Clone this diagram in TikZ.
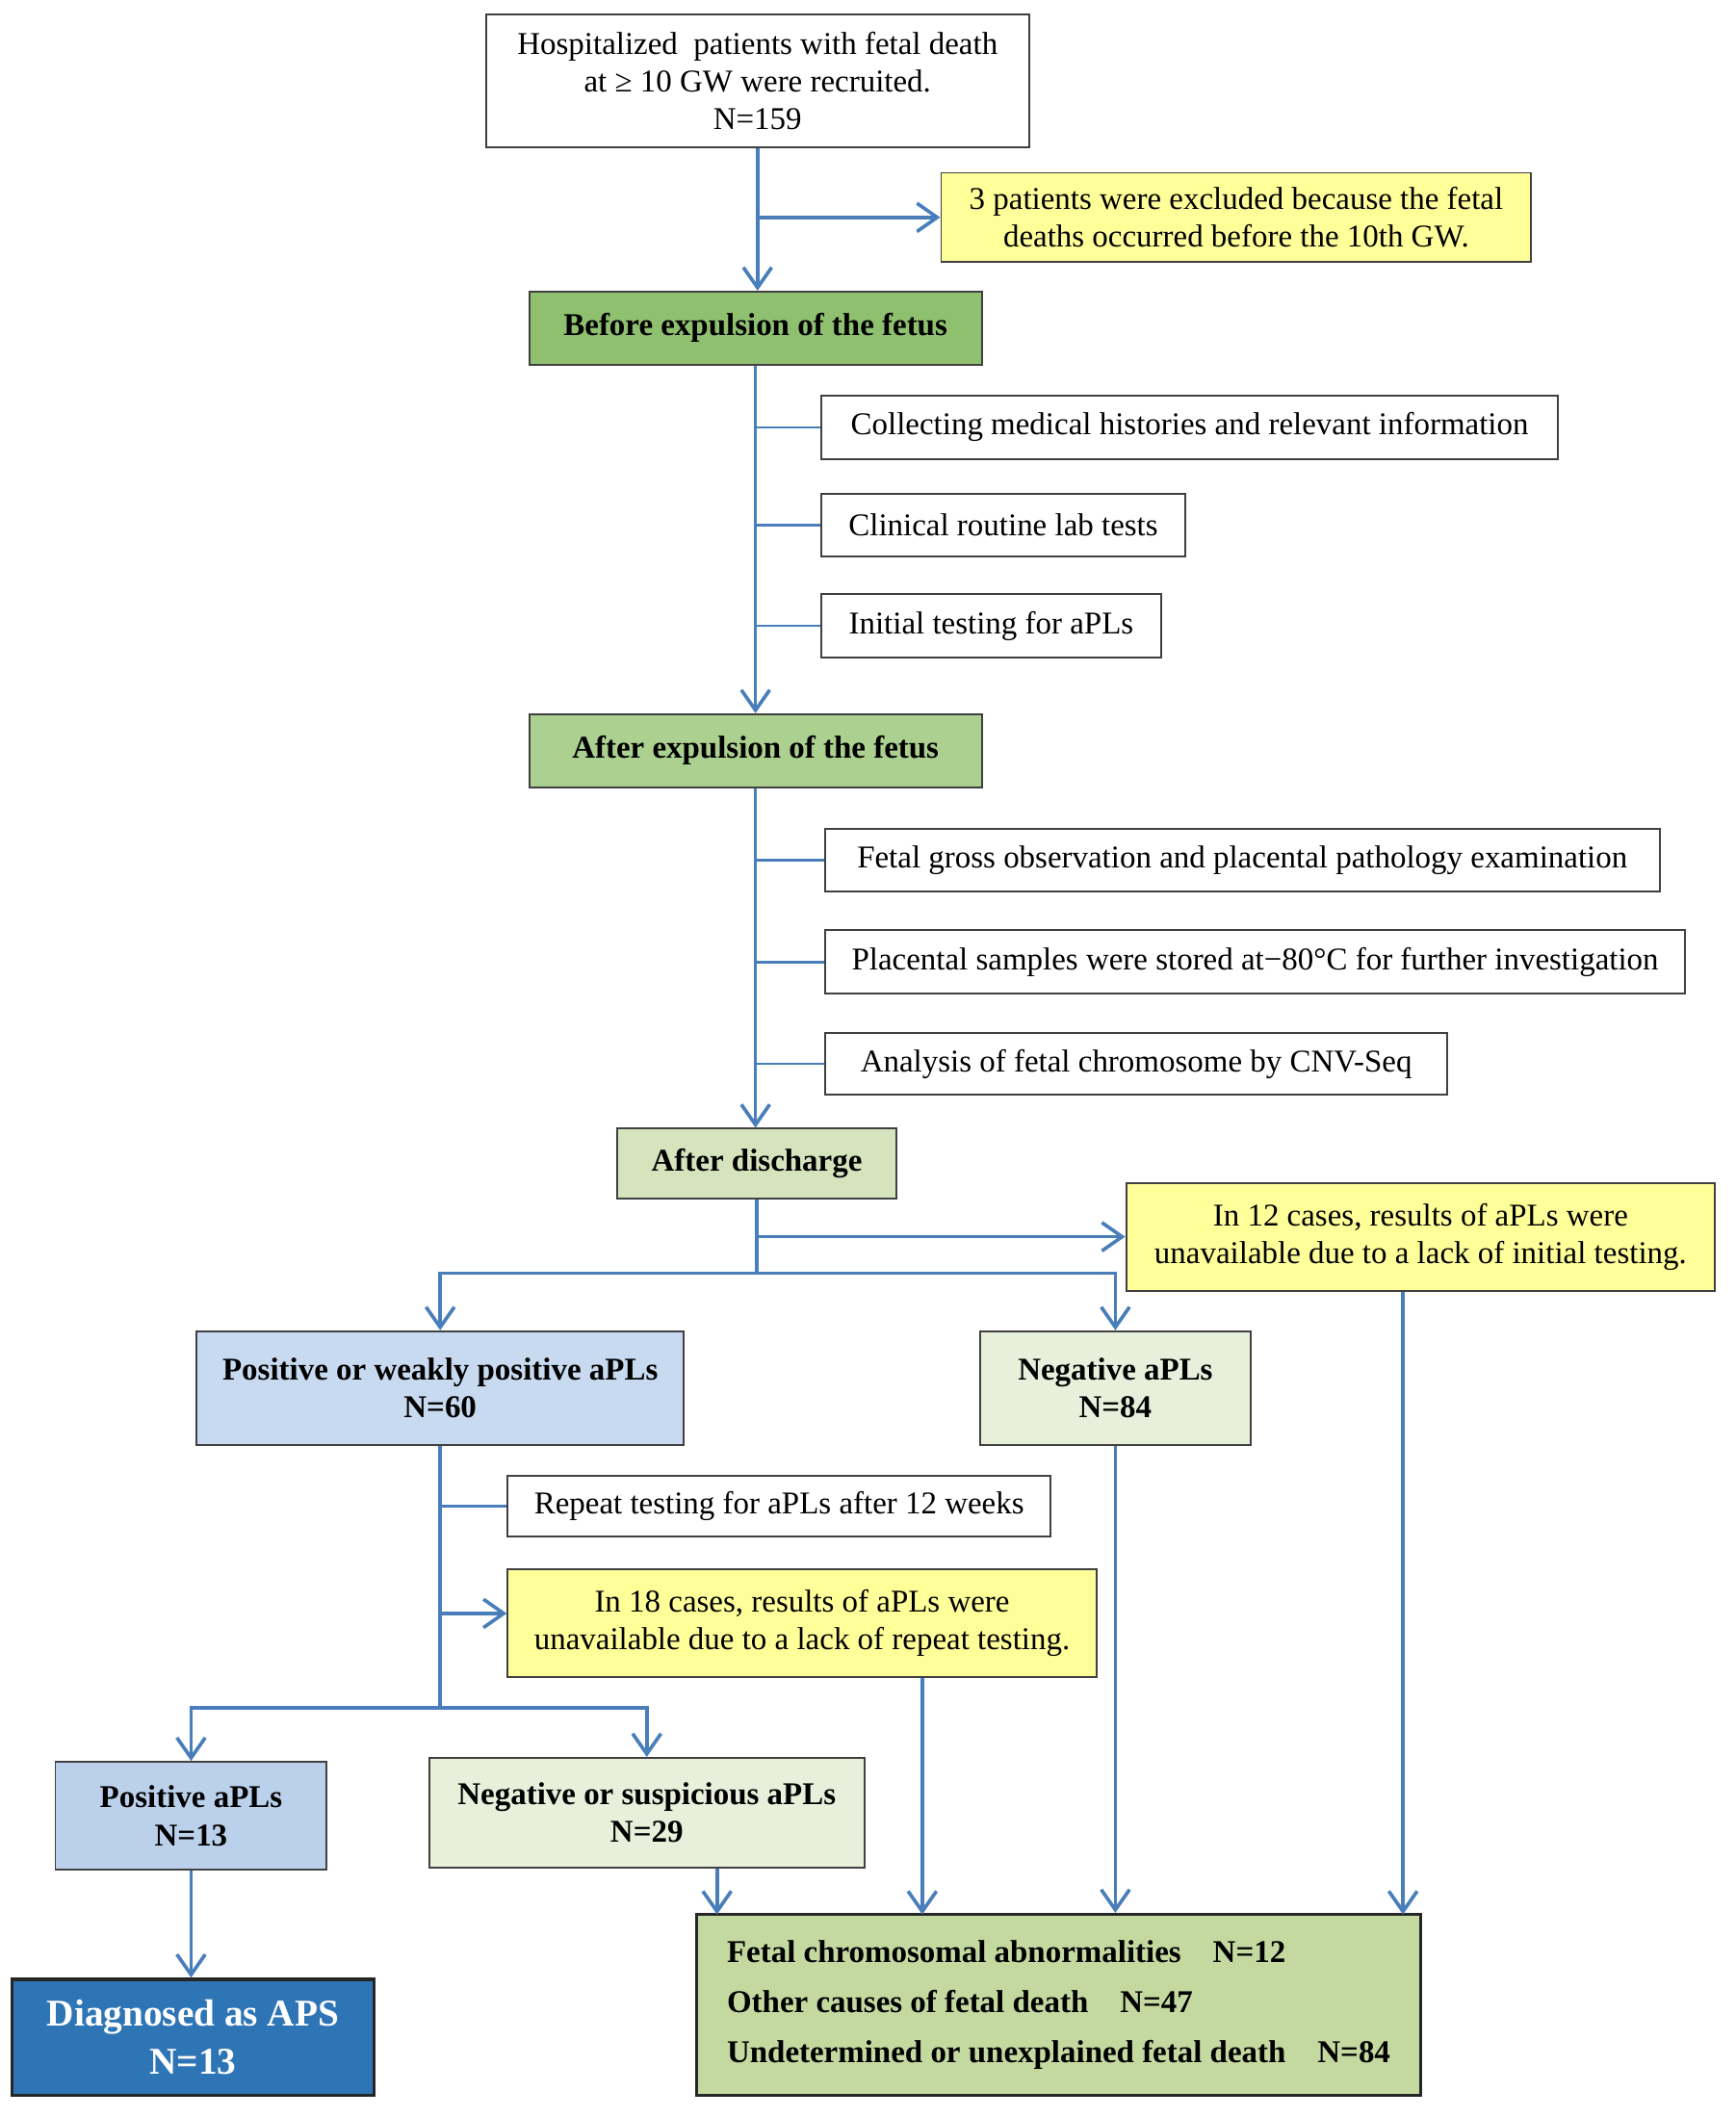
\documentclass[tikz,border=0pt]{standalone}
\usepackage{fontspec}
\setmainfont{Liberation Serif}
\usepackage{xcolor}
\usepackage{tikz}
\usetikzlibrary{arrows.meta,positioning}
\definecolor{linkblue}{RGB}{74,126,187}
\definecolor{stagedark}{RGB}{143,192,112}
\definecolor{stagemid}{RGB}{172,208,144}
\definecolor{stagelight}{RGB}{214,228,190}
\definecolor{negfill}{RGB}{232,240,220}
\definecolor{posfill}{RGB}{200,218,240}
\definecolor{posdark}{RGB}{187,209,235}
\definecolor{apsfill}{RGB}{46,117,182}
\definecolor{notefill}{RGB}{255,255,153}
\definecolor{outfill}{RGB}{196,217,160}
\tikzset{
	box/.style = 
    {
			rectangle, draw = black!75, line width = 1.4pt, inner sep = 0pt,
			align = center, font = \fontsize{23.5}{28}\selectfont
    }
}

\begin{document}
\begin{tikzpicture}[x=1pt, y=1pt, >={Straight Barb[length=15pt,width=21pt]}]
    \tikzset{stage/.style={box,font=\fontsize{23.5}{28}\selectfont\bfseries}}
    \tikzset{note/.style={box,fill=notefill}}
    \tikzset{link/.style={draw=linkblue,line width=2.6pt}}
    \tikzset{branch/.style={draw=linkblue,line width=1.8pt}}
    \useasboundingbox (0,0) rectangle (1285,-1568);
    % Nodes
    \node (start) [box, minimum width=402, minimum height=98] at (561,-60)
        {Hospitalized\ \ patients with fetal death\\at ≥ 10 GW were recruited.\\N=159};
    \node (excl3) [note, minimum width=437, minimum height=66] at (915.5,-161)
        {3 patients were excluded because the fetal\\deaths occurred before the 10th GW.};
    \node (before) [stage, fill=stagedark, minimum width=335, minimum height=54] at (559.5,-243)
        {Before expulsion of the fetus};
    \node (collect) [box, minimum width=546, minimum height=47] at (881,-316.5)
        {Collecting medical histories and relevant information};
    \node (clinical) [box, minimum width=270, minimum height=46] at (743,-389)
        {Clinical routine lab tests};
    \node (initial) [box, minimum width=252, minimum height=47] at (734,-463.5)
        {Initial testing for aPLs};
    \node (after) [stage, fill=stagemid, minimum width=335, minimum height=54] at (559.5,-556)
        {After expulsion of the fetus};
    \node (gross) [box, minimum width=618, minimum height=46] at (920,-637)
        {Fetal gross observation and placental pathology examination};
    \node (stored) [box, minimum width=637, minimum height=47] at (929.5,-712.5)
        {Placental samples were stored at−80°C for further investigation};
    \node (cnv) [box, minimum width=461, minimum height=46] at (841.5,-788)
        {Analysis of fetal chromosome by CNV-Seq};
    \node (discharge) [stage, fill=stagelight, minimum width=207, minimum height=52] at (560.5,-862)
        {After discharge};
    \node (excl12) [note, minimum width=436, minimum height=80] at (1052,-916)
        {In 12 cases, results of aPLs were\\unavailable due to a lack of initial testing.};
    \node (posweak) [stage, fill=posfill, minimum width=361, minimum height=84] at (326,-1028)
        {Positive or weakly positive aPLs\\N=60};
    \node (negative) [stage, fill=negfill, minimum width=200, minimum height=84] at (826,-1028)
        {Negative aPLs\\N=84};
    \node (repeat) [box, minimum width=402, minimum height=45] at (577,-1115.5)
        {Repeat testing for aPLs after 12 weeks};
    \node (excl18) [note, minimum width=436, minimum height=80] at (594,-1202)
        {In 18 cases, results of aPLs were\\unavailable due to a lack of repeat testing.};
    \node (positive) [stage, fill=posdark, minimum width=201, minimum height=80] at (141.5,-1345)
        {Positive aPLs\\N=13};
    \node (negsusp) [stage, fill=negfill, minimum width=322, minimum height=81] at (479,-1342.5)
        {Negative or suspicious aPLs\\N=29};
    \node (aps) [box, fill=apsfill, draw=black!85, line width=2.4pt, text=white,
        font=\fontsize{28}{36}\selectfont\bfseries, minimum width=268, minimum height=86] at (143,-1509)
        {Diagnosed as APS\\N=13};
    \node (outcome) [box, fill=outfill, draw=black!85, line width=2.4pt, align=left,
        font=\fontsize{23.5}{37}\selectfont\bfseries, minimum width=536, minimum height=134] at (784,-1485)
        {Fetal chromosomal abnormalities\quad N=12\\Other causes of fetal death\quad N=47\\Undetermined or unexplained fetal death\quad N=84};

    \coordinate (split) at (560.5,-943);
    \coordinate (split2) at (326,-1265);
    \coordinate (in1) at (531,-1418);
    \coordinate (in2) at (683,-1418);
    \coordinate (in4) at (1039,-1418);

    % Arrows
    \draw [link, ->] (start.south) -- (start.south |- before.north);
    \draw [link, ->] (start.south |- excl3.west) -- (excl3.west);

    \draw [link, ->] (before.south) -- (after.north);
    \draw [branch] (collect.west -| before.south) -- (collect.west);
    \draw [branch] (clinical.west -| before.south) -- (clinical.west);
    \draw [branch] (initial.west -| before.south) -- (initial.west);

    \draw [link, ->] (after.south) -- (after.south |- discharge.north);
    \draw [branch] (gross.west -| after.south) -- (gross.west);
    \draw [branch] (stored.west -| after.south) -- (stored.west);
    \draw [branch] (cnv.west -| after.south) -- (cnv.west);

    \draw [link] (discharge.south) -- (split);
    \draw [link, ->] (discharge.south |- excl12.west) -- (excl12.west);
    \draw [link, ->] (split) -| (posweak.north);
    \draw [link, ->] (split) -| (negative.north);

    \draw [link] (posweak.south) -- (split2);
    \draw [branch] (posweak.south |- repeat.west) -- (repeat.west);
    \draw [link, ->] ([yshift=7pt]posweak.south |- excl18.west) -- ([yshift=7pt]excl18.west);
    \draw [link, ->] (split2) -| (positive.north);
    \draw [link, ->] (split2) -| (negsusp.north);

    \draw [link, ->] (positive.south) -- (positive.south |- aps.north);
    \draw [link, ->] (negsusp.south -| in1) -- (in1);
    \draw [link, ->] (excl18.south -| in2) -- (in2);
    \draw [link, ->] (negative.south) -- (negative.south |- outcome.north);
    \draw [link, ->] (excl12.south -| in4) -- (in4);

\end{tikzpicture}
\end{document}
